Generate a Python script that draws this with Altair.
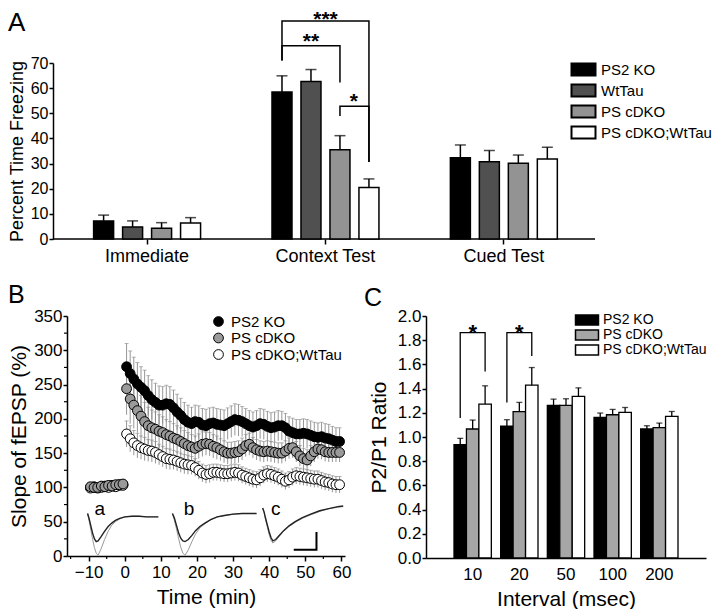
import altair as alt
import pandas as pd

FONT = "Liberation Sans"

# ---------------- Panel A : fear conditioning ----------------
conditions = ["Immediate", "Context Test", "Cued Test"]
genos_A = ["PS2 KO", "WtTau", "PS cDKO", "PS cDKO;WtTau"]
colors_A = ["#000000", "#505050", "#939393", "#ffffff"]
freeze_ps2ko = [7.2, 58.5, 32.3]
freeze_wttau = [4.8, 62.6, 30.7]
freeze_pscdko = [4.3, 35.5, 30.1]
freeze_cdko_wttau = [6.4, 20.5, 31.8]
sem_ps2ko = [2.3, 6.4, 5.1]
sem_wttau = [2.4, 4.8, 4.5]
sem_pscdko = [2.2, 5.6, 3.3]
sem_cdko_wttau = [2.1, 3.4, 4.7]

# significance brackets (Context Test)
brA_id = ["p3"] * 4 + ["p2"] * 4 + ["p1"] * 4
brA_geno = ["PS2 KO", "PS2 KO", "PS cDKO;WtTau", "PS cDKO;WtTau",
            "PS2 KO", "PS2 KO", "PS cDKO", "PS cDKO",
            "PS cDKO", "PS cDKO", "PS cDKO;WtTau", "PS cDKO;WtTau"]
brA_y = [71.0, 86.7, 86.7, 30.6, 71.0, 76.9, 76.9, 62.2, 48.9, 52.8, 52.8, 30.6]
brA_order = [0, 1, 2, 3] * 3
starsA_text = ["***", "**", "*"]
starsA_y = [84.8, 76.0, 52.0]

# ---------------- Panel B : LTP time course ----------------
series_B = ["PS2 KO", "PS cDKO", "PS cDKO;WtTau"]
fill_B = ["#000000", "#9a9a9a", "#ffffff"]
t_base = [-9.5, -8.5, -7.5, -6.5, -5.5, -4.5, -3.5, -2.5, -1.5, -0.5]
t_post = [i + 0.5 for i in range(60)]
base_ps2ko = [100, 101, 100, 101, 102, 102, 103, 103, 104, 104]
base_pscdko = [101, 100, 100, 102, 101, 103, 102, 104, 104, 105]
base_cdko_wttau = [99, 100, 99, 100, 101, 100, 102, 101, 103, 103]
ltp_ps2ko = [276, 266, 258, 251, 246, 241, 234, 228, 224, 220,
             220, 222, 221, 216, 210, 205, 199, 195, 193, 196,
             195, 191, 190, 193, 194, 192, 191, 190, 193, 196,
             199, 198, 196, 193, 190, 188, 190, 193, 192, 189,
             187, 188, 190, 190, 187, 182, 180, 178, 178, 179,
             178, 176, 174, 173, 174, 172, 171, 169, 167, 167]
ltp_pscdko = [244, 229, 220, 212, 204, 196, 190, 187, 185, 182,
              180, 177, 175, 172, 170, 167, 164, 161, 159, 157,
              160, 163, 164, 163, 160, 158, 155, 152, 150, 150,
              151, 152, 156, 161, 163, 158, 155, 153, 152, 153,
              152, 151, 150, 150, 153, 157, 158, 152, 146, 142,
              140, 146, 152, 156, 155, 152, 151, 151, 151, 151]
ltp_cdko_wttau = [178, 171, 165, 161, 158, 156, 154, 153, 151, 148,
                  145, 142, 141, 140, 138, 136, 134, 133, 132, 129,
                  125, 121, 119, 120, 122, 122, 121, 120, 120, 121,
                  122, 121, 118, 116, 114, 112, 111, 114, 118, 120,
                  119, 117, 115, 112, 109, 111, 115, 117, 116, 115,
                  114, 113, 112, 112, 110, 108, 107, 105, 104, 104]
sem_base = [3, 3, 3, 3, 3, 3, 3, 3, 3, 3]
sem_ltp_ps2ko = [34, 33, 32, 31, 30, 30, 29, 29, 28, 28,
                 27, 27, 26, 26, 26, 25, 25, 25, 24, 24,
                 24, 24, 24, 23, 23, 23, 23, 23, 23, 23,
                 23, 23, 22, 22, 22, 22, 22, 22, 22, 22,
                 22, 22, 22, 21, 21, 21, 21, 21, 21, 21,
                 21, 21, 21, 21, 21, 21, 21, 20, 20, 20]
sem_ltp_pscdko = [38, 36, 34, 32, 30, 28, 27, 26, 25, 24,
                  23, 22, 21, 21, 20, 20, 19, 19, 18, 18,
                  18, 18, 17, 17, 17, 17, 16, 16, 16, 16,
                  16, 16, 16, 16, 16, 15, 15, 15, 15, 15,
                  15, 15, 15, 15, 15, 15, 15, 15, 15, 15,
                  15, 15, 15, 14, 14, 14, 14, 14, 14, 14]
sem_ltp_cdko_wttau = [19, 19, 18, 18, 17, 17, 16, 16, 16, 15,
                      15, 15, 15, 14, 14, 14, 14, 14, 13, 13,
                      13, 13, 13, 13, 12, 12, 12, 12, 12, 12,
                      12, 12, 12, 12, 12, 12, 12, 12, 12, 12,
                      12, 12, 12, 12, 12, 12, 12, 12, 12, 12,
                      12, 12, 12, 12, 12, 12, 12, 12, 12, 12]

# sample fEPSP traces drawn inside panel B (time axis units / % units)
trace_a_t = [-10.3, -9.9, -9.4, -8.9, -8.4, -7.9, -7.4, -6.6, -5.6, -4.6, -3.6, -2.6, -1.4, 0.0, 2.0, 4.0, 6.0, 8.0, 9.3]
trace_a_dark = [62, 55, 44, 33, 25, 21, 22, 28, 36, 43, 48, 52, 55, 57, 58, 58, 57, 57, 57]
trace_a_grey = [62, 52, 38, 24, 12, 4, 1, 10, 24, 36, 45, 50, 54, 57, 58, 58, 57, 57, 57]
trace_b_t = [13.2, 13.7, 14.3, 14.9, 15.5, 16.1, 16.7, 17.6, 18.6, 19.6, 20.8, 22.2, 23.8, 25.6, 27.6, 30.0, 32.5, 35.0, 36.5]
trace_b_dark = [62, 56, 45, 34, 26, 22, 21, 24, 30, 37, 43, 48, 53, 57, 59, 61, 62, 62, 62]
trace_b_grey = [62, 53, 40, 26, 13, 4, 1, 9, 21, 32, 41, 47, 53, 57, 59, 61, 62, 62, 62]
trace_c_t = [38.2, 38.6, 39.0, 39.5, 40.0, 40.5, 41.0, 41.8, 42.8, 44.0, 45.5, 47.2, 49.2, 51.5, 54.0, 56.5, 59.0, 60.5]
trace_c_dark = [70, 64, 55, 45, 35, 27, 22, 24, 30, 37, 44, 50, 56, 61, 66, 69, 72, 73]
trace_c_grey = [70, 63, 53, 42, 31, 23, 19, 22, 29, 36, 43, 49, 55, 60, 65, 69, 71, 72]
scalebar_t = [46.8, 53.1, 53.1]
scalebar_v = [9, 9, 35]
trace_labels = ["a", "b", "c"]
trace_label_t = [-6.9, 17.8, 41.8]
trace_label_v = [60, 60, 60]
minor_y_B = [25, 75, 125, 175, 225, 275, 325]
minor_x_B = [-15, -5, 5, 15, 25, 35, 45, 55]

# ---------------- Panel C : paired-pulse ratio ----------------
intervals = ["10", "20", "50", "100", "200"]
genos_C = ["PS2 KO", "PS cDKO", "PS cDKO;WtTau"]
colors_C = ["#000000", "#a6a6a6", "#ffffff"]
ppr_ps2ko = [0.937, 1.090, 1.261, 1.162, 1.066]
ppr_pscdko = [1.066, 1.209, 1.261, 1.184, 1.077]
ppr_cdko_wttau = [1.272, 1.428, 1.335, 1.203, 1.170]
ppr_sem_ps2ko = [0.052, 0.053, 0.052, 0.036, 0.027]
ppr_sem_pscdko = [0.074, 0.077, 0.055, 0.044, 0.038]
ppr_sem_cdko_wttau = [0.151, 0.146, 0.071, 0.041, 0.041]
brC_id = ["i10"] * 4 + ["i20"] * 4
brC_int = ["10"] * 4 + ["20"] * 4
brC_geno = ["PS2 KO", "PS2 KO", "PS cDKO;WtTau", "PS cDKO;WtTau"] * 2
brC_y = [1.157, 1.863, 1.863, 1.541, 1.286, 1.863, 1.863, 1.670]
brC_order = [0, 1, 2, 3] * 2
starsC_int = ["10", "20"]
starsC_y = [1.80, 1.80]

panel_letters = ["A", "B", "C"]


def letter(txt, px, py, size):
    """Panel letter placed relative to a panel's plot area."""
    return alt.Chart(pd.DataFrame({"lab": [txt]})).mark_text(
        fontSize=size, align="left", baseline="alphabetic").encode(
        x=alt.value(px), y=alt.value(py), text="lab:N")


# =================== Panel A ===================
WA, HA = 528, 176
dfA = pd.DataFrame({
    "cond": conditions * 4,
    "gA": [g for g in genos_A for _ in conditions],
    "mean": freeze_ps2ko + freeze_wttau + freeze_pscdko + freeze_cdko_wttau,
    "sem": sem_ps2ko + sem_wttau + sem_pscdko + sem_cdko_wttau,
})
dfA["upper"] = dfA["mean"] + dfA["sem"]
dfBrA = pd.DataFrame({"id": brA_id, "cond": "Context Test", "gA": brA_geno,
                      "y": brA_y, "o": brA_order})

xA = alt.X("cond:N", sort=conditions,
           scale=alt.Scale(domain=conditions, paddingInner=0.35, paddingOuter=0.155, align=0.4),
           axis=alt.Axis(title=None, labelAngle=0, labelFontSize=18, tickSize=5,
                         labelPadding=3, domain=False))
xoffA = alt.XOffset("gA:N", sort=genos_A,
                    scale=alt.Scale(domain=genos_A, paddingInner=0.31, paddingOuter=0.155))
yA_scale = alt.Scale(domain=[0, 70], nice=False)
yA_axis = alt.Axis(values=list(range(0, 71, 10)), title="Percent Time Freezing",
                   titleFontSize=18, labelFontSize=16, tickSize=4, titlePadding=4,
                   labelPadding=1, labelOverlap=False, offset=14)


def yA(field):
    return alt.Y(field, scale=yA_scale, axis=yA_axis)


baseA = alt.Chart(pd.DataFrame({"y": [0]})).mark_rule(color="black", strokeWidth=1.5).encode(
    y=yA("y:Q"), x=alt.value(-14), x2=alt.value(WA))
barsA = alt.Chart(dfA).mark_bar(stroke="black", strokeWidth=1.5).encode(
    x=xA, xOffset=xoffA, y=yA("mean:Q"),
    fill=alt.Fill("gA:N", scale=alt.Scale(domain=genos_A, range=colors_A),
                  legend=alt.Legend(title=None, orient="none", legendX=509, legendY=-1,
                                    symbolType="M-2,-1H2V1H-2Z", symbolSize=144,
                                    symbolStrokeColor="black", symbolStrokeWidth=2,
                                    labelFontSize=15, labelOffset=10, rowPadding=0,
                                    labelFont=FONT)))
errA = alt.Chart(dfA).mark_rule(color="black", strokeWidth=1.5).encode(
    x=xA, xOffset=xoffA, y=yA("mean:Q"), y2="upper:Q")
capA = alt.Chart(dfA).mark_tick(color="black", thickness=1.5, size=11, orient="horizontal").encode(
    x=xA, xOffset=xoffA, y=yA("upper:Q"))
brA = alt.Chart(dfBrA).mark_line(color="black", strokeWidth=1.5).encode(
    x=xA, xOffset=xoffA, y=yA("y:Q"), detail="id:N", order="o:Q")
st3 = alt.Chart(pd.DataFrame({"cond": ["Context Test"], "t": [starsA_text[0]], "y": [starsA_y[0]]})).mark_text(
    fontSize=21, fontWeight="bold", baseline="alphabetic").encode(
    x=xA, y=yA("y:Q"), text="t:N")
st2 = alt.Chart(pd.DataFrame({"cond": ["Context Test"], "gA": ["WtTau"], "t": [starsA_text[1]], "y": [starsA_y[1]]})).mark_text(
    fontSize=21, fontWeight="bold", baseline="alphabetic").encode(
    x=xA, xOffset=xoffA, y=yA("y:Q"), text="t:N")
st1 = alt.Chart(pd.DataFrame({"cond": ["Context Test"], "gA": ["PS cDKO"], "t": [starsA_text[2]], "y": [starsA_y[2]]})).mark_text(
    fontSize=21, fontWeight="bold", baseline="alphabetic", dx=14).encode(
    x=xA, xOffset=xoffA, y=yA("y:Q"), text="t:N")

chartA = alt.layer(baseA, barsA, errA, capA, brA, st3, st2, st1,
                   letter(panel_letters[0], -59, -32, 26)).properties(width=WA, height=HA)

# =================== Panel B ===================
rows = []
for name, base, post, sp in [
        ("PS2 KO", base_ps2ko, ltp_ps2ko, sem_ltp_ps2ko),
        ("PS cDKO", base_pscdko, ltp_pscdko, sem_ltp_pscdko),
        ("PS cDKO;WtTau", base_cdko_wttau, ltp_cdko_wttau, sem_ltp_cdko_wttau)]:
    for t, v, s in zip(t_base + t_post, base + post, sem_base + sp):
        rows.append({"series": name, "t": t, "v": v, "lo": v - s, "hi": v + s})
dfB = pd.DataFrame(rows)

trows = []
for tid, ts, vd, vg in [("a", trace_a_t, trace_a_dark, trace_a_grey),
                        ("b", trace_b_t, trace_b_dark, trace_b_grey),
                        ("c", trace_c_t, trace_c_dark, trace_c_grey)]:
    for i, (t, d, g) in enumerate(zip(ts, vd, vg)):
        trows.append({"id": tid, "t": t, "dark": d, "grey": g, "o": i})
dfTr = pd.DataFrame(trows)

WB, HB = 278, 240
xB_scale = alt.Scale(domain=[-16, 61], nice=False, zero=False)
yB_scale = alt.Scale(domain=[0, 350], nice=False)
xB_axis = alt.Axis(values=list(range(-10, 61, 10)), title="Time (min)", titleFontSize=21,
                   labelFontSize=17, tickSize=5, labelPadding=3, titlePadding=6,
                   labelOverlap=False)
yB_axis = alt.Axis(values=list(range(0, 351, 50)), title="Slope of fEPSP (%)",
                   titleFontSize=21, labelFontSize=17, tickSize=4, labelPadding=1,
                   titlePadding=4, labelOverlap=False)


def xB(field):
    return alt.X(field, scale=xB_scale, axis=xB_axis)


def yB(field):
    return alt.Y(field, scale=yB_scale, axis=yB_axis)


minorYB = alt.Chart(pd.DataFrame({"v": minor_y_B})).mark_rule(color="black", strokeWidth=1.2).encode(
    y=yB("v:Q"), x=alt.value(0), x2=alt.value(-3))
minorXB = alt.Chart(pd.DataFrame({"t": minor_x_B})).mark_rule(color="black", strokeWidth=1.2).encode(
    x=xB("t:Q"), y=alt.value(HB), y2=alt.value(HB + 3))
trGrey = alt.Chart(dfTr).mark_line(color="#9a9a9a", strokeWidth=1).encode(
    x=xB("t:Q"), y=yB("grey:Q"), detail="id:N", order="o:Q")
trDark = alt.Chart(dfTr).mark_line(color="#222222", strokeWidth=1.4).encode(
    x=xB("t:Q"), y=yB("dark:Q"), detail="id:N", order="o:Q")
sbar = alt.Chart(pd.DataFrame({"t": scalebar_t, "v": scalebar_v, "o": [0, 1, 2]})).mark_line(
    color="black", strokeWidth=2).encode(x=xB("t:Q"), y=yB("v:Q"), order="o:Q")
trLab = alt.Chart(pd.DataFrame({"lab": trace_labels, "t": trace_label_t, "v": trace_label_v})).mark_text(
    fontSize=19, baseline="alphabetic").encode(x=xB("t:Q"), y=yB("v:Q"), text="lab:N")
errB = alt.Chart(dfB).mark_rule(color="#8a8a8a", strokeWidth=0.9).encode(
    x=xB("t:Q"), y=yB("lo:Q"), y2="hi:Q")
capB = alt.Chart(dfB).mark_tick(color="#8a8a8a", thickness=0.9, size=4, orient="horizontal").encode(
    x=xB("t:Q"), y=yB("hi:Q"))
ptsB = alt.Chart(dfB).mark_point(filled=True, shape="circle", size=96, stroke="black",
                                 strokeWidth=1, opacity=1).encode(
    x=xB("t:Q"), y=yB("v:Q"),
    fill=alt.Fill("series:N", scale=alt.Scale(domain=series_B, range=fill_B),
                  legend=alt.Legend(title=None, orient="none", legendX=144, legendY=-2,
                                    symbolType="circle", symbolSize=95,
                                    symbolStrokeColor="black", symbolStrokeWidth=1,
                                    labelFontSize=15, labelOffset=5, rowPadding=0.5,
                                    labelFont=FONT)),
    order=alt.Order("series:N", sort="descending"))

chartB = alt.layer(minorYB, minorXB, trGrey, trDark, sbar, trLab, errB, capB, ptsB,
                   letter(panel_letters[1], -59, -13, 25)).properties(width=WB, height=HB)

# =================== Panel C ===================
WC, HC = 280, 242
dfC = pd.DataFrame({
    "interval": intervals * 3,
    "gC": [g for g in genos_C for _ in intervals],
    "mean": ppr_ps2ko + ppr_pscdko + ppr_cdko_wttau,
    "sem": ppr_sem_ps2ko + ppr_sem_pscdko + ppr_sem_cdko_wttau,
})
dfC["upper"] = dfC["mean"] + dfC["sem"]
dfBrC = pd.DataFrame({"id": brC_id, "interval": brC_int, "gC": brC_geno, "y": brC_y, "o": brC_order})

xC = alt.X("interval:N", sort=intervals,
           scale=alt.Scale(domain=intervals, paddingInner=0.2, paddingOuter=0.6),
           axis=alt.Axis(title="Interval (msec)", labelAngle=0, ticks=False, labelFontSize=17,
                         labelPadding=8, titleFontSize=21, titlePadding=6))
xoffC = alt.XOffset("gC:N", sort=genos_C,
                    scale=alt.Scale(domain=genos_C, paddingInner=0, paddingOuter=0))
yC_scale = alt.Scale(domain=[0, 2], nice=False)
yC_axis = alt.Axis(values=[0, 0.2, 0.4, 0.6, 0.8, 1.0, 1.2, 1.4, 1.6, 1.8, 2.0], format=".1f",
                   title="P2/P1 Ratio", titleFontSize=21, labelFontSize=17, tickSize=4,
                   labelPadding=1, titlePadding=8, labelOverlap=False)


def yC(field):
    return alt.Y(field, scale=yC_scale, axis=yC_axis)


barsC = alt.Chart(dfC).mark_bar(stroke="black", strokeWidth=1.3).encode(
    x=xC, xOffset=xoffC, y=yC("mean:Q"),
    fill=alt.Fill("gC:N", scale=alt.Scale(domain=genos_C, range=colors_C),
                  legend=alt.Legend(title=None, orient="none", legendX=154, legendY=-3,
                                    symbolType="M-2,-0.87H2V0.87H-2Z", symbolSize=132,
                                    symbolStrokeColor="black", symbolStrokeWidth=1.5,
                                    labelFontSize=14, labelOffset=9, rowPadding=-3,
                                    labelFont=FONT)))
errC = alt.Chart(dfC).mark_rule(color="black", strokeWidth=1.3).encode(
    x=xC, xOffset=xoffC, y=yC("mean:Q"), y2="upper:Q")
capC = alt.Chart(dfC).mark_tick(color="black", thickness=1.3, size=6, orient="horizontal").encode(
    x=xC, xOffset=xoffC, y=yC("upper:Q"))
brC = alt.Chart(dfBrC).mark_line(color="black", strokeWidth=1.3).encode(
    x=xC, xOffset=xoffC, y=yC("y:Q"), detail="id:N", order="o:Q")
stC = alt.Chart(pd.DataFrame({"interval": starsC_int, "gC": ["PS cDKO", "PS cDKO"], "t": ["*", "*"],
                              "y": starsC_y})).mark_text(
    fontSize=22, fontWeight="bold", baseline="alphabetic").encode(
    x=xC, xOffset=xoffC, y=yC("y:Q"), text="t:N")

chartC = alt.layer(barsC, errC, capC, brC, stC,
                   letter(panel_letters[2], -62, -10, 25)).properties(width=WC, height=HC)

bottom = alt.ConcatChart(concat=[chartB, chartC], columns=2, align="none", spacing=13).resolve_scale(
    x="independent", y="independent", xOffset="independent", fill="independent")

chart = alt.ConcatChart(concat=[chartA, bottom], columns=1, align="none", spacing=18).resolve_scale(
    x="independent", y="independent", xOffset="independent", fill="independent"
).properties(
    padding={"left": 0, "top": 0, "right": 0, "bottom": 0}
).configure_view(stroke=None).configure_axis(
    domainColor="black", domainWidth=1.5, tickColor="black", tickWidth=1.5,
    labelColor="black", titleColor="black", labelFont=FONT, titleFont=FONT,
    titleFontWeight="normal", grid=False
).configure_text(font=FONT, color="black").configure_legend(labelColor="black")

chart.save("out.html", embed_options={"renderer": "svg", "actions": False})
